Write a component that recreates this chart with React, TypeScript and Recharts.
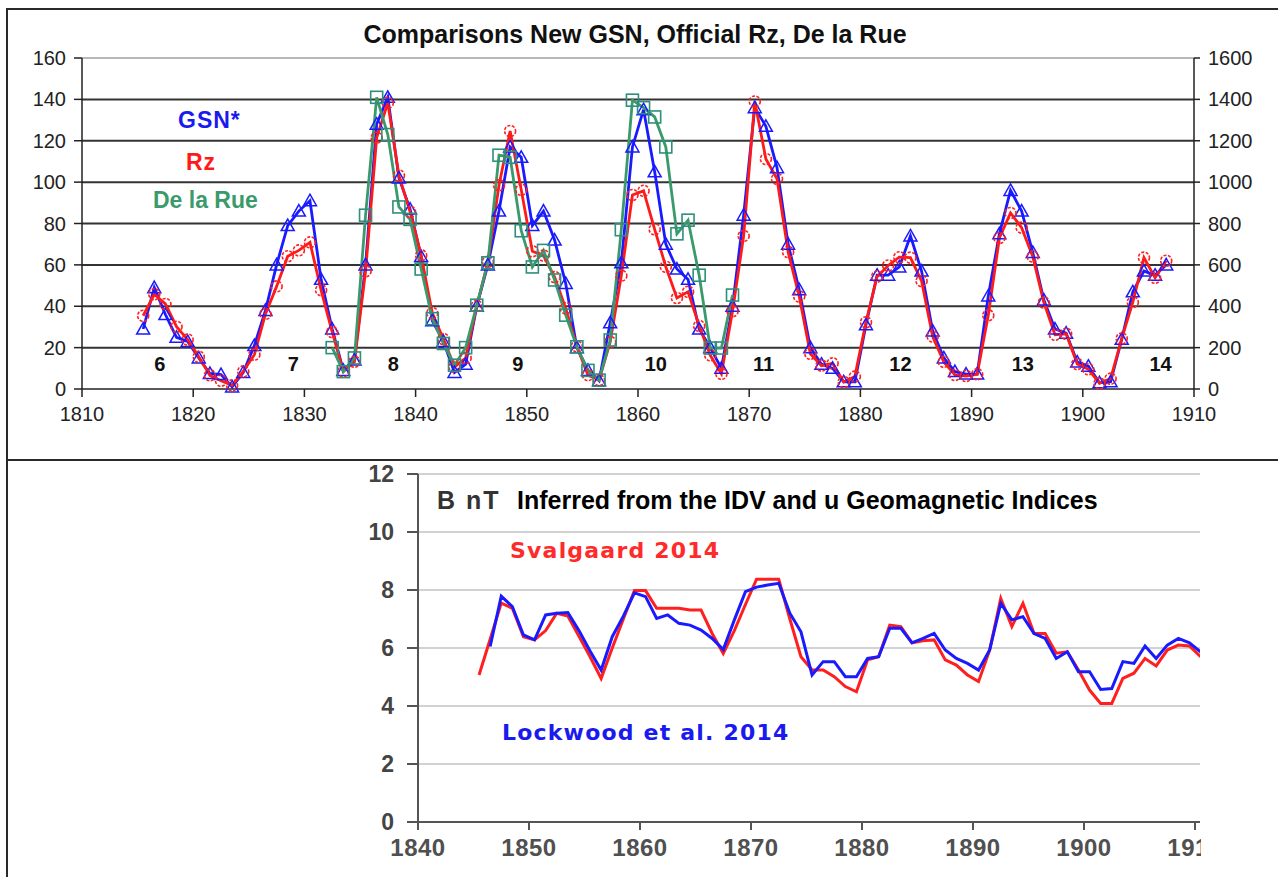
import { LineChart, Line, XAxis, YAxis, ReferenceLine, ReferenceDot, CartesianGrid } from 'recharts';

// top chart: yearly means plotted at mid-year
const topStart = 1815;
const gsn = [
  29, 49, 36, 25, 23,
  15, 7.5, 7, 1, 8, 21, 38, 60, 79, 86,
  91, 53, 29, 9, 14, 60, 128, 141, 102, 87,
  64, 33, 23, 8, 12, 40, 60, 86, 117, 112,
  79, 86, 72, 51, 20, 9, 4, 32, 61, 117,
  135, 105, 70, 58, 53, 29, 20, 10, 40, 84,
  136, 127, 107, 70, 48, 20, 12, 10, 3.5, 3.5,
  31, 55, 55, 59, 74, 57, 28, 15, 8.4, 7.2,
  7.2, 45, 75, 96, 86, 66, 43, 29, 27, 13,
  11, 3, 3.5, 24, 47, 57, 55, 60
];
const rz = [
  35.4, 45.8, 41.1, 30.1, 23.9,
  15.6, 6.6, 4.0, 1.8, 8.5, 16.6, 36.3, 49.6, 64.2, 67.0,
  70.9, 47.8, 27.5, 8.5, 13.2, 56.9, 121.5, 138.3, 103.2, 85.7,
  64.6, 36.7, 24.2, 10.7, 15.0, 40.1, 61.5, 98.5, 124.7, 96.3,
  66.6, 64.5, 54.1, 39.0, 20.6, 6.7, 4.3, 22.7, 54.8, 93.8,
  95.8, 77.2, 59.1, 44.0, 47.0, 30.5, 16.3, 7.3, 37.6, 74.0,
  139.0, 111.2, 101.6, 66.2, 44.7, 17.0, 11.3, 12.4, 3.4, 6.0,
  32.3, 54.3, 59.7, 63.7, 63.5, 52.2, 25.4, 13.1, 6.8, 6.3,
  7.1, 35.6, 73.0, 85.1, 78.0, 64.0, 41.8, 26.2, 26.7, 12.1,
  9.5, 2.7, 5.0, 24.4, 42.0, 63.5, 53.8, 62.0
];
// De la Rue, right axis (x10)
const dlrStart = 1832;
const delaRue = [
  200, 84, 150, 840, 1410, 1230, 880, 820, 580, 340,
  220, 115, 200, 405, 610, 1130, 1120, 765, 590, 670,
  527, 357, 204, 90, 43, 237, 770, 1396, 1360, 1315,
  1170, 750, 816, 550, 198, 198, 454
];
const topXTicks = [1810, 1820, 1830, 1840, 1850, 1860, 1870, 1880, 1890, 1900, 1910];
const leftTicks = [0, 20, 40, 60, 80, 100, 120, 140, 160];
const rightTicks = [0, 200, 400, 600, 800, 1000, 1200, 1400, 1600];
const cycleLabels = ['6', '7', '8', '9', '10', '11', '12', '13', '14'];
const cycleYears = [1817.0, 1829.0, 1838.0, 1849.2, 1861.6, 1871.3, 1883.6, 1894.6, 1907.0];

// bottom chart: B (nT)
const svStart = 1845;
const svalgaard = [
  5.07, 6.3, 7.55, 7.37, 6.39,
  6.28, 6.6, 7.2, 7.1, 6.4, 5.7, 4.95, 6.0, 7.0, 7.98,
  7.98, 7.37, 7.37, 7.37, 7.31, 7.31, 6.5, 5.81, 6.6, 7.5,
  8.37, 8.37, 8.37, 7.0, 5.7, 5.24, 5.24, 5.01, 4.67, 4.49,
  5.59, 5.7, 6.79, 6.74, 6.18, 6.25, 6.28, 5.59, 5.41, 5.07,
  4.84, 5.93, 7.71, 6.74, 7.54, 6.5, 6.5, 5.82, 5.87, 5.24,
  4.55, 4.09, 4.09, 4.95, 5.13, 5.64, 5.38, 5.93, 6.1, 6.07,
  5.7
];
const lwStart = 1846;
const lockwood = [
  6.05, 7.79, 7.43, 6.45,
  6.28, 7.14, 7.2, 7.22, 6.6, 5.9, 5.24, 6.39, 7.1, 7.9,
  7.77, 7.02, 7.14, 6.85, 6.79, 6.62, 6.33, 5.95, 6.97, 7.94,
  8.1, 8.17, 8.23, 7.2, 6.56, 5.07, 5.53, 5.53, 5.01, 5.01,
  5.64, 5.7, 6.68, 6.68, 6.18, 6.33, 6.5, 5.93, 5.64, 5.47,
  5.24, 5.93, 7.54, 6.97, 7.08, 6.5, 6.33, 5.64, 5.87, 5.18,
  5.18, 4.57, 4.6, 5.53, 5.47, 6.07, 5.64, 6.1, 6.33, 6.18,
  5.87
];
const botXTicks = [1840, 1850, 1860, 1870, 1880, 1890, 1900, 1910];
const botYTicks = [0, 2, 4, 6, 8, 10, 12];

const topData = gsn.map((g, i) => {
  const year = topStart + i;
  const d = year - dlrStart;
  return {
    x: year + 0.5,
    gsn: g,
    rz: rz[i],
    dlr: d >= 0 && d < delaRue.length ? delaRue[d] : null
  };
});

const botData = svalgaard.map((s, i) => {
  const year = svStart + i;
  const j = year - lwStart;
  return { x: year + 0.5, sv: s, lw: j >= 0 && j < lockwood.length ? lockwood[j] : null };
});

const SANS = '"Liberation Sans", Arial, sans-serif';

function triangleDot(props: any) {
  const { cx, cy, index } = props;
  if (cx == null || cy == null) return <g key={`t${index}`} />;
  return (
    <path
      key={`t${index}`}
      d={`M${cx},${cy - 6.5}L${cx + 6.5},${cy + 5}L${cx - 6.5},${cy + 5}Z`}
      fill="none"
      stroke="#1a1aff"
      strokeWidth={1.5}
    />
  );
}

function circleDot(props: any) {
  const { cx, cy, index } = props;
  if (cx == null || cy == null) return <g key={`c${index}`} />;
  return (
    <circle key={`c${index}`} cx={cx} cy={cy} r={5.5} fill="none" stroke="#ff2020"
      strokeWidth={1.6} strokeDasharray="3 1.5" />
  );
}

function squareDot(props: any) {
  const { cx, cy, index } = props;
  if (cx == null || cy == null) return <g key={`s${index}`} />;
  return (
    <rect key={`s${index}`} x={cx - 6} y={cy - 6} width={12} height={12} fill="none"
      stroke="#2e8f7c" strokeWidth={1.6} />
  );
}

function Label(props: { left: number; cy: number; size: number; color: string; text: string; spacing?: number; weight?: number; font?: string }) {
  return (
    <div
      style={{
        position: 'absolute',
        left: props.left,
        top: props.cy - props.size / 2,
        fontSize: props.size,
        lineHeight: `${props.size}px`,
        fontWeight: props.weight ?? 700,
        fontFamily: props.font ?? SANS,
        color: props.color,
        letterSpacing: props.spacing ?? 0,
        whiteSpace: 'nowrap'
      }}
    >
      {props.text}
    </div>
  );
}

function TopChart() {
  return (
    <LineChart width={1278} height={460} data={topData} margin={{ top: 58, right: 24, left: 22, bottom: 41 }}>
      {leftTicks.slice(1, -1).map((t) => (
        <ReferenceLine key={t} yAxisId="left" y={t} stroke="#333" strokeWidth={2} />
      ))}
      <ReferenceLine yAxisId="left" y={160} stroke="#a0a0a0" strokeWidth={1.5} />
      <XAxis
        dataKey="x"
        type="number"
        domain={[1810, 1910]}
        ticks={topXTicks}
        stroke="#222"
        strokeWidth={1.5}
        tickSize={8}
        tickMargin={10}
        tick={{ fontSize: 20, fill: '#222', fontFamily: SANS }}
      />
      <YAxis
        yAxisId="left"
        domain={[0, 160]}
        ticks={leftTicks}
        width={60}
        stroke="#222"
        strokeWidth={1.5}
        tickSize={8}
        tickMargin={8}
        tick={{ fontSize: 20, fill: '#222', fontFamily: SANS }}
      />
      <YAxis
        yAxisId="right"
        orientation="right"
        domain={[0, 1600]}
        ticks={rightTicks}
        width={60}
        stroke="#222"
        strokeWidth={1.5}
        tickSize={6}
        tickMargin={8}
        tick={{ fontSize: 20, fill: '#222', fontFamily: SANS }}
      />
      <Line yAxisId="left" dataKey="gsn" stroke="#1a1aff" strokeWidth={2.8} dot={triangleDot} isAnimationActive={false} />
      <Line yAxisId="left" dataKey="rz" stroke="#ff1a1a" strokeWidth={2.8} dot={circleDot} isAnimationActive={false} />
      <Line yAxisId="right" dataKey="dlr" stroke="#3a9a6c" strokeWidth={2.8} dot={squareDot} isAnimationActive={false} />
      {cycleLabels.map((c, i) => (
        <ReferenceDot
          key={c}
          yAxisId="left"
          x={cycleYears[i]}
          y={12}
          r={0}
          fill="none"
          stroke="none"
          label={{ value: c, position: 'center', fontSize: 20, fontWeight: 700, fill: '#111', fontFamily: SANS }}
        />
      ))}
    </LineChart>
  );
}

function BottomChart() {
  return (
    <LineChart width={1278} height={417} data={botData} margin={{ top: 14, right: 78, left: 358, bottom: 25 }}>
      <CartesianGrid vertical={false} stroke="#d2d2d2" strokeWidth={2} />
      <XAxis
        dataKey="x"
        type="number"
        domain={[1840, 1910.45]}
        allowDataOverflow
        ticks={botXTicks}
        stroke="#555"
        strokeWidth={2}
        tickSize={8}
        tickMargin={9}
        tick={{ fontSize: 24, fill: '#505050', fontWeight: 700, fontFamily: SANS, letterSpacing: 0.5 }}
      />
      <YAxis
        domain={[0, 12]}
        ticks={botYTicks}
        width={60}
        stroke="#555"
        strokeWidth={2}
        tickSize={11}
        tickMargin={13}
        tick={{ fontSize: 23, fill: '#444', fontWeight: 700, fontFamily: SANS }}
      />
      <Line dataKey="sv" stroke="#ff1f1f" strokeWidth={3} dot={false} isAnimationActive={false} />
      <Line dataKey="lw" stroke="#1a1aff" strokeWidth={3} dot={false} isAnimationActive={false} />
    </LineChart>
  );
}

export default function App() {
  return (
    <div style={{ position: 'relative', width: 1278, height: 877, background: '#fff', overflow: 'hidden' }}>
      <style>{'body{margin:0}'}</style>
      <div style={{ position: 'absolute', left: 0, top: 0 }}>
        <TopChart />
      </div>
      <div style={{ position: 'absolute', left: 0, top: 460 }}>
        <BottomChart />
      </div>
      {/* clip the last bottom tick label at the plot edge */}
      <div style={{ position: 'absolute', left: 1201, top: 830, width: 77, height: 47, background: '#fff' }} />
      {/* frame */}
      <div style={{ position: 'absolute', left: 6, top: 9, width: 2, height: 868, background: '#2a2a2a' }} />
      <div style={{ position: 'absolute', left: 6, top: 8, width: 1272, height: 2, background: '#2a2a2a' }} />
      <div style={{ position: 'absolute', left: 6, top: 459, width: 1272, height: 2, background: '#2a2a2a' }} />

      <div
        style={{
          position: 'absolute', left: 0, width: 1270, top: 22, textAlign: 'center', fontFamily: SANS,
          fontWeight: 700, fontSize: 25, lineHeight: '25px', color: '#111'
        }}
      >
        Comparisons New GSN, Official Rz, De la Rue
      </div>
      <Label left={178} cy={120} size={23} color="#1a1aee" text="GSN*" spacing={1} />
      <Label left={186} cy={162} size={23} color="#ff1a1a" text="Rz" spacing={1} />
      <Label left={153} cy={200} size={23} color="#3a9a6c" text="De la Rue" />

      <Label left={437} cy={500} size={25} color="#333" text="B nT" spacing={2} />
      <Label left={517} cy={500} size={25} color="#000" text="Inferred from the IDV and u Geomagnetic Indices" />
      <Label left={510} cy={551} size={22} color="#ff2a2a" text="Svalgaard 2014" spacing={1.2} font='"DejaVu Sans", sans-serif' />
      <Label left={502} cy={733} size={22} color="#1a1aee" text="Lockwood et al. 2014" spacing={1.2} font='"DejaVu Sans", sans-serif' />
    </div>
  );
}
